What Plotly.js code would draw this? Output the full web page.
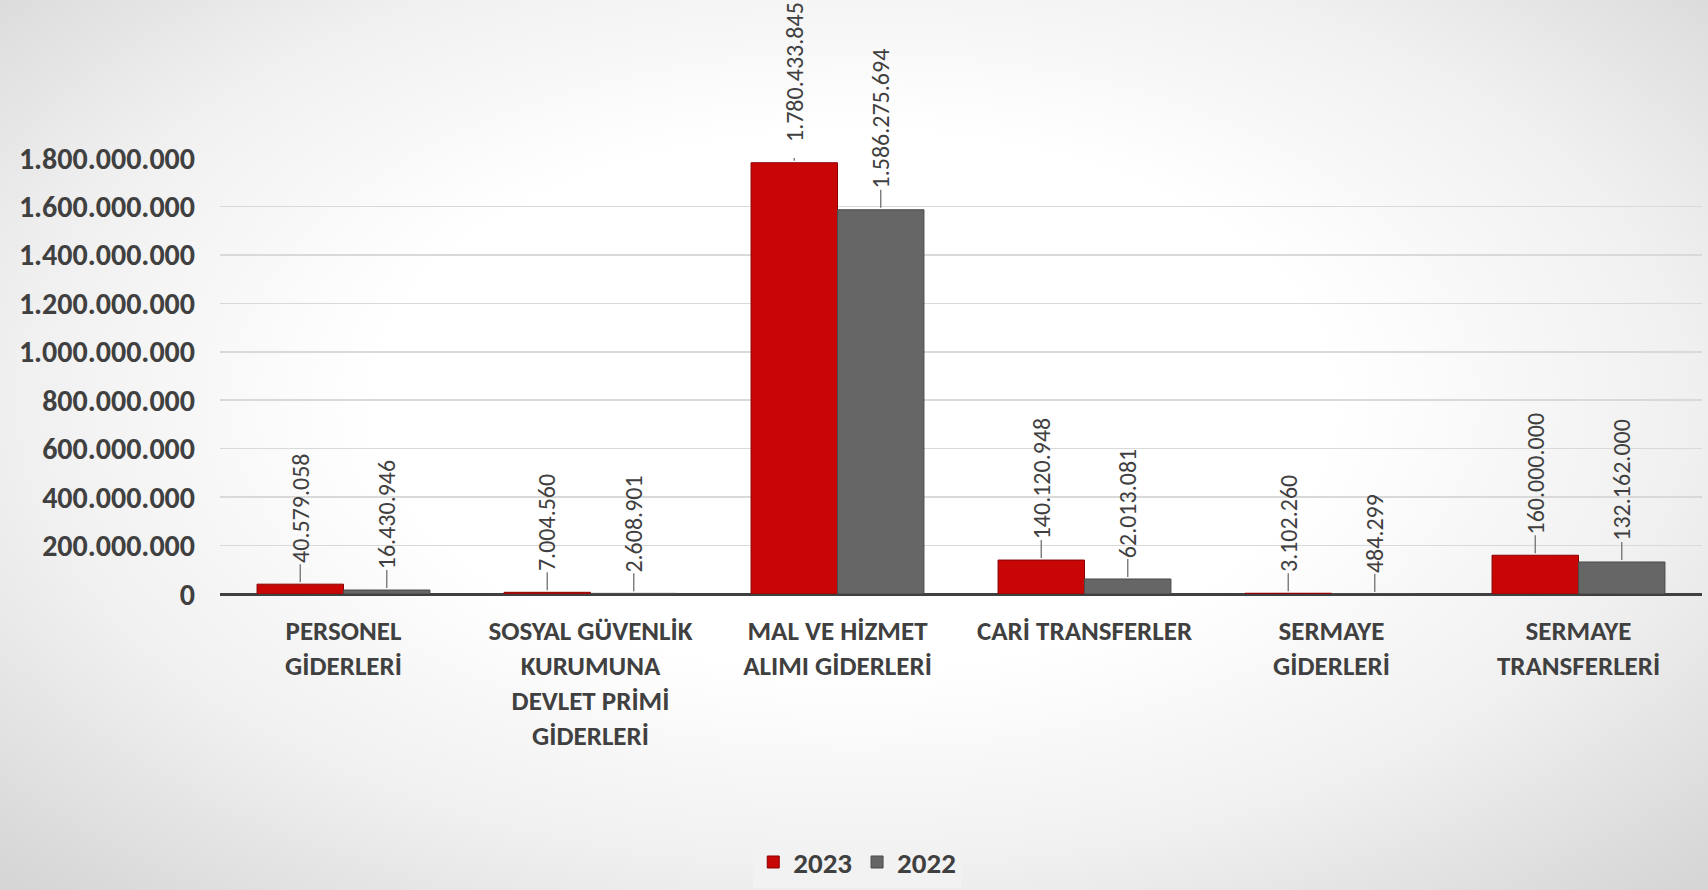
<!DOCTYPE html>
<html>
<head>
<meta charset="utf-8">
<script src="https://cdn.plot.ly/plotly-3.0.1.min.js"></script>
<style>
  html, body { margin:0; padding:0; width:1708px; height:890px; overflow:hidden;
    background: radial-gradient(ellipse 70% 75% at 50% 45%, #ffffff 0%, #ffffff 40%, #f0f0f0 70%, #d6d6d6 100%); }
  #chart { width:1708px; height:890px; }
</style>
</head>
<body>
<div id="chart"></div>
<script>
const categories = [
  "PERSONEL<br>GİDERLERİ",
  "SOSYAL GÜVENLİK<br>KURUMUNA<br>DEVLET PRİMİ<br>GİDERLERİ",
  "MAL VE HİZMET<br>ALIMI GİDERLERİ",
  "CARİ TRANSFERLER",
  "SERMAYE<br>GİDERLERİ",
  "SERMAYE<br>TRANSFERLERİ"
];
const values2023 = [40579058, 7004560, 1780433845, 140120948, 3102260, 160000000];
const values2022 = [16430946, 2608901, 1586275694, 62013081, 484299, 132162000];
const seriesNames = ["2023", "2022"];
const yTicks = [0, 200000000, 400000000, 600000000, 800000000, 1000000000, 1200000000, 1400000000, 1600000000, 1800000000];

const FONT = "Carlito, 'Open Sans', 'Liberation Sans', sans-serif";
const TXT = "#404040";
const idx = categories.map((c, i) => i);
const bargap = 0.3;
const half = (1 - bargap) / 4;

function fmt(v) { return String(v).replace(/\B(?=(\d{3})+(?!\d))/g, "."); }

const traces = [
  { type: "bar", name: seriesNames[0], x: idx, y: values2023,
    marker: { color: "#C80606", line: { color: "#8B0000", width: 1 } } },
  { type: "bar", name: seriesNames[1], x: idx, y: values2022,
    marker: { color: "#666666", line: { color: "#4a4a4a", width: 1 } } }
];

const annotations = [];
const shapes = [];
[values2023, values2022].forEach((vals, s) => {
  vals.forEach((v, i) => {
    const xc = i + (s === 0 ? -half : half);
    annotations.push({
      x: xc, y: v, xref: "x", yref: "y",
      text: fmt(v), textangle: -90, showarrow: false,
      xanchor: "center", yanchor: "bottom", yshift: 19,
      font: { family: FONT, size: 24, color: TXT }
    });
    shapes.push({
      type: "line", xref: "x", yref: "y", ysizemode: "pixel", yanchor: v,
      x0: xc, x1: xc, y0: 2, y1: 20,
      line: { color: "#7f7f7f", width: 1.5 }
    });
  });
});

const layout = {
  width: 1708, height: 890,
  paper_bgcolor: "rgba(0,0,0,0)", plot_bgcolor: "rgba(0,0,0,0)",
  margin: { l: 220, r: 6, t: 158, b: 296, autoexpand: false },
  separators: ",.",
  barmode: "group", bargap: bargap, bargroupgap: 0,
  font: { family: FONT, color: TXT },
  xaxis: {
    tickmode: "array", tickvals: idx, ticktext: categories,
    range: [-0.5, categories.length - 0.5],
    showgrid: false, zeroline: false, showline: false, ticks: "",
    tickfont: { family: FONT, size: 27, color: TXT, weight: "bold" },
    ticklabelstandoff: 18, automargin: false
  },
  yaxis: {
    range: [0, 1800000000], tickmode: "array", tickvals: yTicks,
    tickformat: ",d", showgrid: true, gridcolor: "#d9d9d9", gridwidth: 1.5,
    zeroline: true, zerolinecolor: "#404040", zerolinewidth: 3,
    tickfont: { family: FONT, size: 30, color: TXT, weight: "bold" },
    ticklabelstandoff: 24, automargin: false
  },
  showlegend: true,
  legend: {
    orientation: "h", x: 0.43, xanchor: "center", y: -0.615, yanchor: "middle",
    bgcolor: "#f2f2f2", font: { family: FONT, size: 29, color: TXT, weight: "bold" },
    itemwidth: 30, tracegroupgap: 0
  },
  shapes: shapes,
  annotations: annotations
};

Plotly.newPlot("chart", traces, layout, { displayModeBar: false, staticPlot: true });
</script>
</body>
</html>
